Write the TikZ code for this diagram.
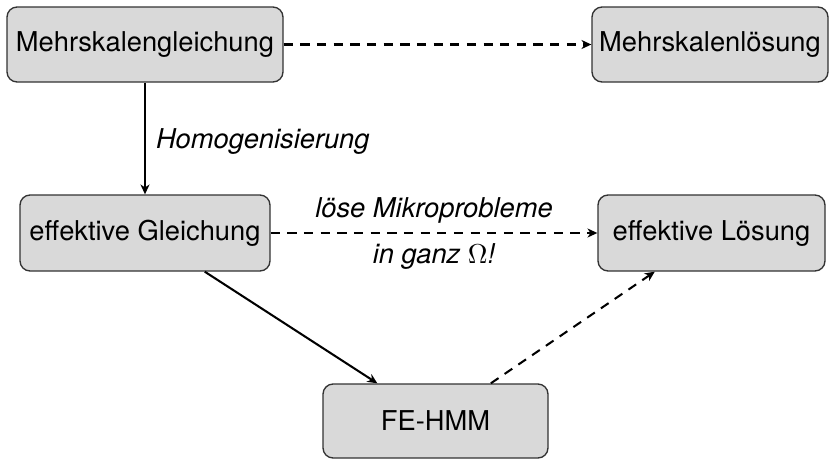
\documentclass[tikz,border=0pt]{standalone}
\usepackage[no-math]{fontspec}
\setmainfont{TeX Gyre Heros}
\usetikzlibrary{arrows.meta}
\def\u{0.3663pt}
\tikzset{
  box/.style={draw=black!80, line width=0.5pt, fill=black!15, rounded corners=3.7pt, inner sep=0pt, align=center},
  conn/.style={line width=0.75pt, -{Stealth[length=3.6pt,width=3.3pt,inset=1.1pt]}},
  dconn/.style={conn, dash pattern=on 3.4pt off 2.7pt},
  lbl/.style={font=\itshape, inner sep=0pt}
}
\begin{document}
\begin{tikzpicture}[x=\u, y=-\u]
\useasboundingbox (0,0) rectangle (829,460);
\node[box, minimum width=276*\u, minimum height=75*\u] (A) at (145,44.5) {Mehrskalengleichung};
\node[box, minimum width=236*\u, minimum height=75*\u] (B) at (710,44.5) {Mehrskalenlösung};
\node[box, minimum width=250*\u, minimum height=76*\u] (C) at (145,233) {effektive Gleichung};
\node[box, minimum width=227*\u, minimum height=76*\u] (D) at (711.5,233) {effektive Lösung};
\node[box, minimum width=225*\u, minimum height=74*\u] (E) at (435.5,421) {FE-HMM};
\draw[dconn] (A) -- (B);
\draw[conn] (A) -- node[lbl, anchor=west, xshift=10*\u, yshift=-3*\u] (hom) {Homogenisierung} (C);
\draw[dconn] (C) -- node[lbl, yshift=23*\u] (l1) {löse Mikroprobleme} node[lbl, yshift=-24*\u] (l2) {in ganz $\Omega$!} (D);
\draw[conn] (C) -- (E);
\draw[dconn] (E) -- (D);
\end{tikzpicture}
\end{document}
